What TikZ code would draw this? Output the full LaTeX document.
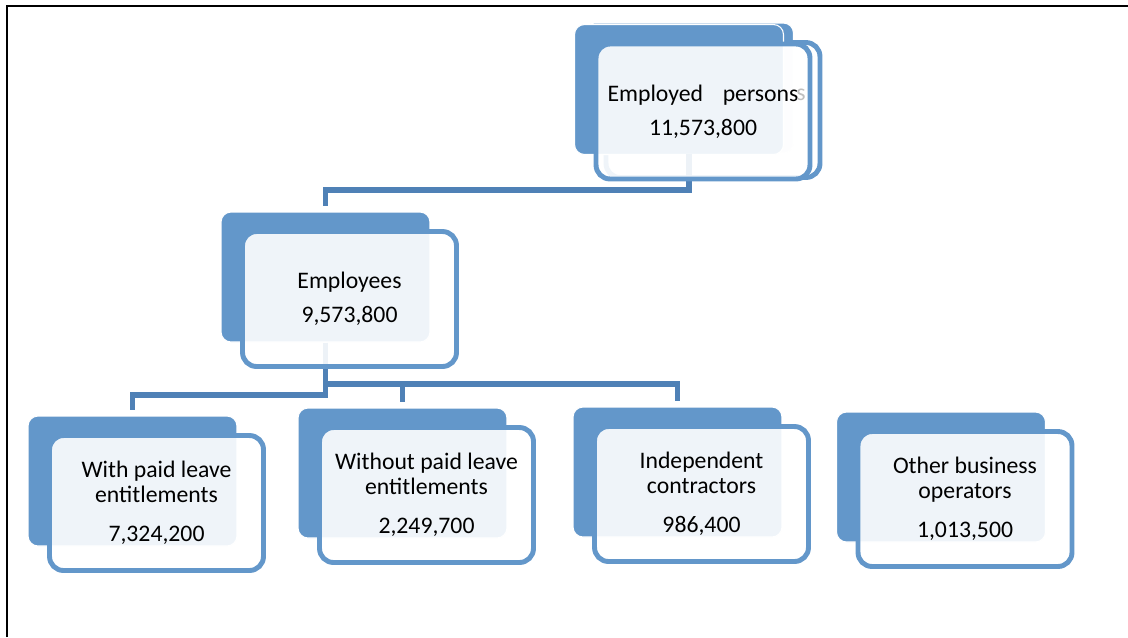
\documentclass[tikz,border=0pt]{standalone}
\usepackage{fontspec}
\setmainfont{Carlito}
\definecolor{boxblue}{RGB}{99,151,202}
\definecolor{linkblue}{RGB}{79,129,182}
\begin{document}
\begin{tikzpicture}[x=0.02cm,y=-0.02cm,
  backbox/.style={draw=white,line width=0.6pt,fill=boxblue,rounded corners=0.2cm,
    minimum width=4.18cm,minimum height=2.6cm,inner sep=0pt},
  frontbox/.style={draw=boxblue,line width=2.8pt,fill=white,fill opacity=0.9,text opacity=1,
    rounded corners=0.28cm,minimum width=4.28cm,minimum height=2.7cm,inner sep=0pt,
    align=center,font=\fontsize{13.5}{14.2}\selectfont},
  link/.style={draw=linkblue,line width=3.4pt,shorten >=3.4pt}]
\useasboundingbox(0,0)rectangle(1128,637);
\draw[line width=1.1pt](7,637)--(7,6)--(1128,6);
% stacked copy behind the top box
\node[backbox](topghost)at(689,88){};
\node[frontbox](topghostfr)at([shift={(24,22)}]topghost){};
% back boxes
\node[backbox](topback)at(679,89.5){};
\node[backbox](empback)at(325.5,277){};
\node[backbox](paidback)at(132.5,481){};
\node[backbox](nopaidback)at(402.5,473){};
\node[backbox](contrback)at(677.5,472){};
\node[backbox](otherback)at(941,477){};
% connectors
\draw[link](topghost.south)--(topghost.south|-0,190)-|(empback.north);
\draw[link](empback.south)--(empback.south|-0,384)-|(contrback.north);
\draw[link](empback.south|-0,384)-|(nopaidback.north);
\draw[link](empback.south)--(empback.south|-0,395)-|(paidback.north);
% front boxes
\node[frontbox](top)at([shift={(24,22)}]topback){Employed\hspace{0.83em}persons\\[5pt]11,573,800};
\node[text=black!25,font=\fontsize{13.5}{14.2}\selectfont](ghosts)at(801,95){s};
\node[frontbox](emp)at([shift={(24,22)}]empback){Employees\\[5pt]9,573,800};
\node[frontbox](paid)at([shift={(24,22)}]paidback){With paid leave\\entitlements\\[8pt]7,324,200};
\node[frontbox](nopaid)at([shift={(24,22)}]nopaidback){Without paid leave\\entitlements\\[8pt]2,249,700};
\node[frontbox](contr)at([shift={(24,22)}]contrback){Independent\\contractors\\[8pt]986,400};
\node[frontbox](other)at([shift={(24,22)}]otherback){Other business\\operators\\[8pt]1,013,500};
\end{tikzpicture}
\end{document}
